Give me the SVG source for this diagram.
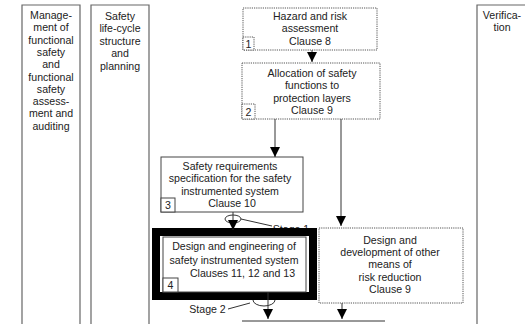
<svg xmlns="http://www.w3.org/2000/svg" width="525" height="324" viewBox="0 0 525 324">
<defs>
<style>
text{font-family:"Liberation Sans",Arial,sans-serif;font-size:10.6px;fill:#222;text-anchor:middle}
.col{fill:none;stroke:#666;stroke-width:1.2}
.box{fill:#fff;stroke:#444;stroke-width:1}
.dot{fill:#fff;stroke:#555;stroke-width:1;stroke-dasharray:1.2 1}
.ln{stroke:#333;stroke-width:1;fill:none}
</style>
<marker id="ah" viewBox="0 0 10 10" refX="10" refY="5" markerWidth="10" markerHeight="10" markerUnits="userSpaceOnUse" orient="auto">
<path d="M0,0 L10,5 L0,10 Z" fill="#000"/>
</marker>
</defs>
<rect width="525" height="324" fill="#fff"/>

<g id="col-management">
<path class="col" d="M22,330 V5 H80 V330"/>
<text x="51" y="19">Manage-</text>
<text x="51" y="31.3">ment of</text>
<text x="51" y="43.6">functional</text>
<text x="51" y="55.9">safety</text>
<text x="51" y="68.2">and</text>
<text x="51" y="80.5">functional</text>
<text x="51" y="92.8">safety</text>
<text x="51" y="105.1">assess-</text>
<text x="51" y="117.4">ment and</text>
<text x="51" y="129.7">auditing</text>
</g>

<g id="col-planning">
<path class="col" d="M91,330 V5 H149 V330"/>
<text x="120" y="20">Safety</text>
<text x="120" y="32.4">life-cycle</text>
<text x="120" y="44.8">structure</text>
<text x="120" y="57.2">and</text>
<text x="120" y="69.6">planning</text>
</g>

<g id="col-verification">
<path class="col" d="M477,330 V5 H530"/>
<text x="502" y="19">Verifica-</text>
<text x="502" y="31">tion</text>
</g>

<g id="node1">
<rect class="dot" x="243" y="8" width="134" height="42"/>
<rect class="dot" x="243" y="37" width="11" height="13"/>
<text x="248.5" y="47.5">1</text>
<text x="310" y="19.5">Hazard and risk</text>
<text x="310" y="32">assessment</text>
<text x="310" y="44.5">Clause 8</text>
</g>

<g id="node2">
<rect class="dot" x="242" y="63" width="138" height="56"/>
<rect class="dot" x="242" y="104" width="13" height="15"/>
<text x="248.5" y="116">2</text>
<text x="312" y="77">Allocation of safety</text>
<text x="312" y="89">functions to</text>
<text x="312" y="101.5">protection layers</text>
<text x="312" y="114">Clause 9</text>
</g>

<g id="node3">
<rect class="box" x="161" y="157" width="142" height="55"/>
<rect class="box" x="161" y="198" width="14" height="14"/>
<text x="168" y="209">3</text>
<text x="230" y="169.5">Safety requirements</text>
<text x="230" y="182">specification for the safety</text>
<text x="230" y="194.5">instrumented system</text>
<text x="232" y="207">Clause 10</text>
</g>

<g id="stage1">
<ellipse class="ln" cx="233" cy="219" rx="8" ry="4"/>
<line class="ln" x1="241" y1="219" x2="272" y2="226"/>
<text x="291" y="233">Stage 1</text>
</g>

<g id="node-other">
<rect class="dot" x="319" y="228" width="144" height="75"/>
<text x="390" y="243.5">Design and</text>
<text x="390" y="255.5">development of other</text>
<text x="390" y="268">means of</text>
<text x="390" y="280.5">risk reduction</text>
<text x="390" y="292.5">Clause 9</text>
</g>

<g id="stage2">
<ellipse class="ln" cx="264" cy="300" rx="11" ry="6"/>
<line class="ln" x1="228" y1="309" x2="250" y2="303"/>
<text x="207.5" y="312.5">Stage 2</text>
</g>

<g id="node4">
<rect x="156" y="232" width="157" height="64" fill="#fff" stroke="#000" stroke-width="8"/>
<rect class="box" x="163" y="237" width="143" height="55"/>
<rect class="box" x="163" y="278" width="15" height="14"/>
<text x="170.5" y="289">4</text>
<text x="234" y="250">Design and engineering of</text>
<text x="234" y="263.5">safety instrumented system</text>
<text x="242.5" y="277">Clauses 11, 12 and 13</text>
</g>

<g id="connectors">
<line class="ln" x1="312" y1="50" x2="312" y2="62" marker-end="url(#ah)"/>
<line class="ln" x1="275" y1="119" x2="275" y2="157" marker-end="url(#ah)"/>
<line class="ln" x1="341" y1="119" x2="341" y2="226" marker-end="url(#ah)"/>
<line class="ln" x1="233" y1="212" x2="233" y2="230" marker-end="url(#ah)"/>
<line class="ln" x1="268" y1="292" x2="268" y2="319" marker-end="url(#ah)"/>
<line class="ln" x1="342" y1="303" x2="342" y2="319" marker-end="url(#ah)"/>
<line class="ln" x1="242" y1="321" x2="385" y2="321"/>
</g>
</svg>
